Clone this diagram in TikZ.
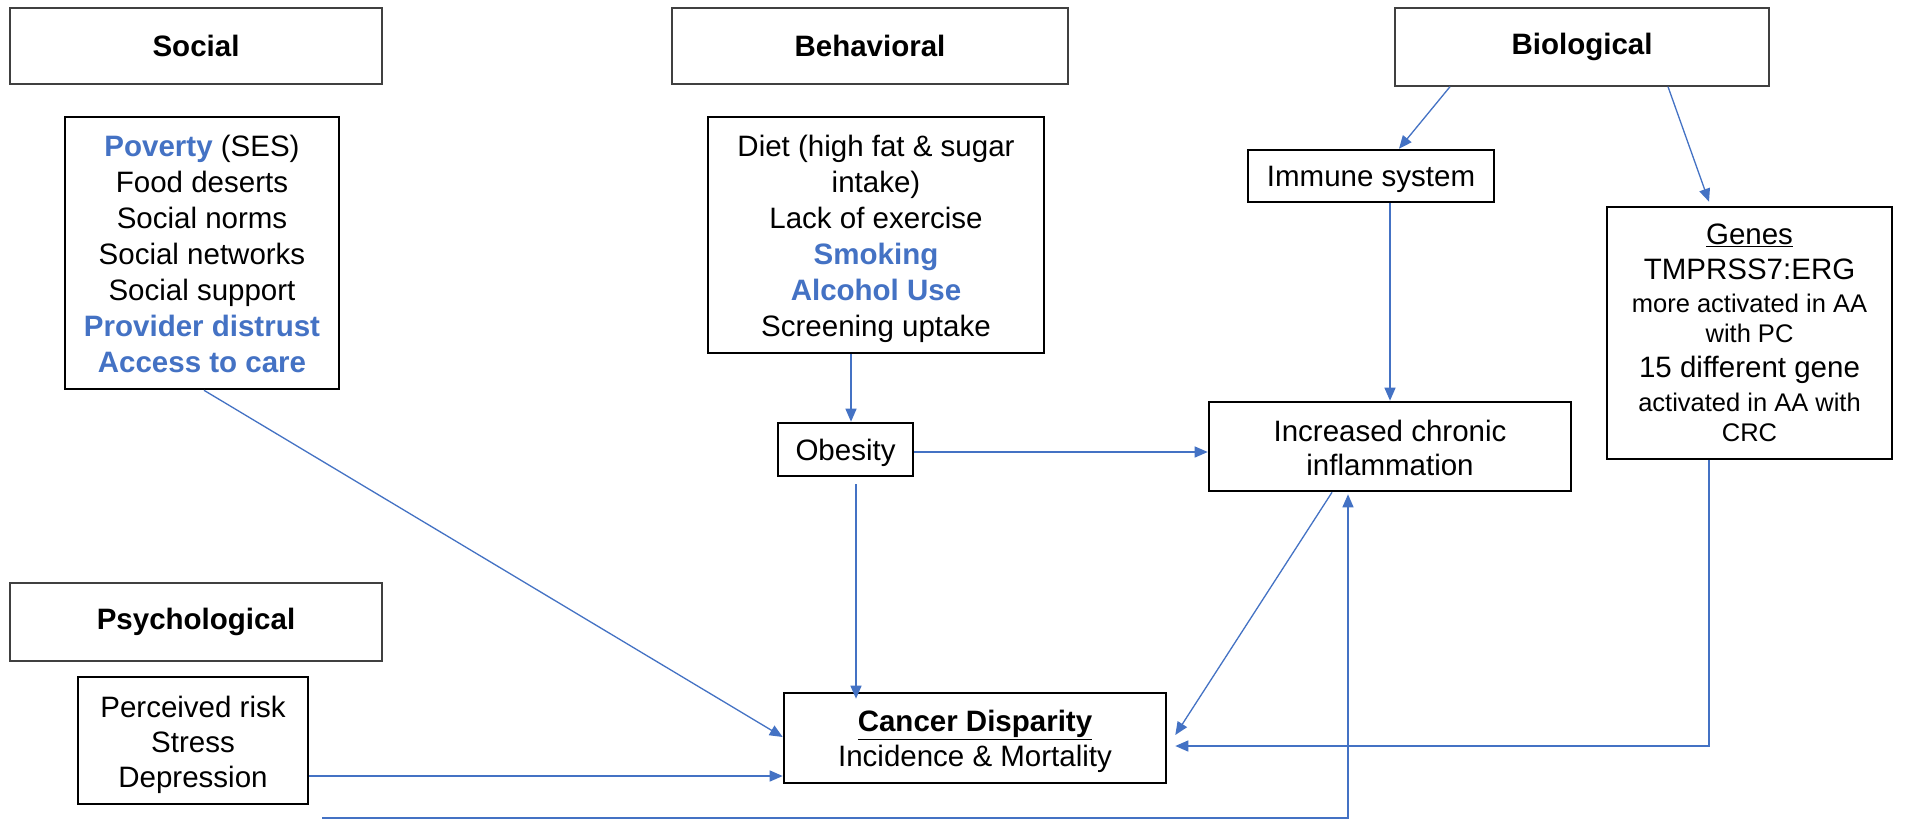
\documentclass[tikz,border=0pt]{standalone}
\usepackage{fontspec}
\setmainfont{Liberation Sans}
\usetikzlibrary{arrows.meta,calc}
\definecolor{ablue}{HTML}{4472C4}
\definecolor{hdgray}{HTML}{404040}
\newcommand\fsz{\fontsize{29.5}{36}\selectfont}
\newcommand\fss{\fontsize{25.5}{30}\selectfont}
\newcommand\bl[1]{\textcolor{ablue}{\textbf{#1}}}
\newcommand\tp[1]{\mbox{}\\[-#1]}
\begin{document}
\begin{tikzpicture}[x=1pt,y=-1pt,
  hdr/.style={draw=hdgray, line width=1.4pt, inner sep=0pt, font=\fsz\bfseries},
  lst/.style={draw=black, line width=2.6pt, inner sep=0pt, align=center, font=\fsz},
  arr/.style={draw=ablue, line width=1.3pt, -{Triangle[length=13pt,width=11pt]}}]
\useasboundingbox[fill=white] (0,0) rectangle (1911,820);

% headers
\node[hdr, minimum width=372pt, minimum height=76pt] (social) at (196,46) {Social};
\node[hdr, minimum width=396pt, minimum height=76pt] (behav) at (870,46) {Behavioral};
\node[hdr, minimum width=374pt, minimum height=78pt] (bio) at (1582,47) {Biological};
\node[hdr, minimum width=372pt, minimum height=78pt] (psych) at (196,622) {Psychological};

% lists
\node[lst, minimum width=274pt, minimum height=272pt] (soclist) at (202,253)
  {\tp{12pt}\bl{Poverty} (SES)\\Food deserts\\Social norms\\Social networks\\Social support\\\bl{Provider distrust}\\\bl{Access to care}};
\node[lst, minimum width=336pt, minimum height=236pt] (behlist) at (876,235)
  {\tp{6pt}Diet (high fat \& sugar\\intake)\\Lack of exercise\\\bl{Smoking}\\\bl{Alcohol Use}\\Screening uptake};
\node[lst, minimum width=230pt, minimum height=127pt, font=\fontsize{29.5}{35}\selectfont] (psylist) at (193,740.5)
  {\tp{5pt}Perceived risk\\Stress\\Depression};
\node[lst, minimum width=246pt, minimum height=52pt] (immune) at (1371,176) {\tp{8pt}Immune system};
\node[lst, minimum width=362pt, minimum height=89pt, font=\fontsize{29.5}{34}\selectfont] (chronic) at (1390,446.5)
  {\tp{10pt}Increased chronic\\inflammation};
\node[lst, minimum width=135pt, minimum height=53pt] (obesity) at (845.5,449.5) {\tp{8pt}Obesity};
\node[lst, minimum width=382pt, minimum height=90pt, font=\fontsize{29.5}{35}\selectfont] (cancer) at (975,738)
  {\tp{6pt}\textbf{\underline{Cancer Disparity}}\\Incidence \& Mortality};
\node[lst, minimum width=285pt, minimum height=252pt] (genes) at (1749.5,333)
  {\underline{Genes}\\[-1pt]TMPRSS7:ERG\\[-3pt]{\fss more activated in AA}\\[-6pt]{\fss with PC}\\[-1pt]15 different gene\\[-2pt]{\fss activated in AA with}\\[-6pt]{\fss CRC}};

\coordinate (bstart) at (322,818);

% connectors
\draw[arr] ([xshift=-25pt]behlist.south) -- ([xshift=-25pt]behlist.south |- obesity.north);
\draw[arr] ([xshift=10.5pt,yshift=-7pt]obesity.south) -- ([xshift=10.5pt,yshift=-7pt]obesity.south |- cancer.north);
\draw[arr] ([yshift=-2.5pt]obesity.east) -- ([yshift=-2.5pt]obesity.east -| chronic.west);
\draw[arr] (immune.south -| chronic.north) -- (chronic.north);
\draw[arr] ([xshift=-132pt]bio.south) -- ([xshift=28pt]immune.north);
\draw[arr] ([xshift=86pt]bio.south) -- ([xshift=-40.5pt,yshift=4pt]genes.north);
\draw[arr] ([xshift=2pt]soclist.south) -- ([yshift=1pt]cancer.west);
\draw[arr] ([yshift=-35.5pt]psylist.east) -- ([yshift=-35.5pt]psylist.east -| cancer.west);
\draw[arr] ([xshift=-58pt]chronic.south) -- ([xshift=8pt,yshift=3pt]cancer.east);
\draw[arr] ([xshift=-40.5pt]genes.south) |- ([xshift=8pt,yshift=-8pt]cancer.east);
\draw[arr] (bstart) -| ([xshift=-42pt,yshift=-2pt]chronic.south);
\end{tikzpicture}
\end{document}
